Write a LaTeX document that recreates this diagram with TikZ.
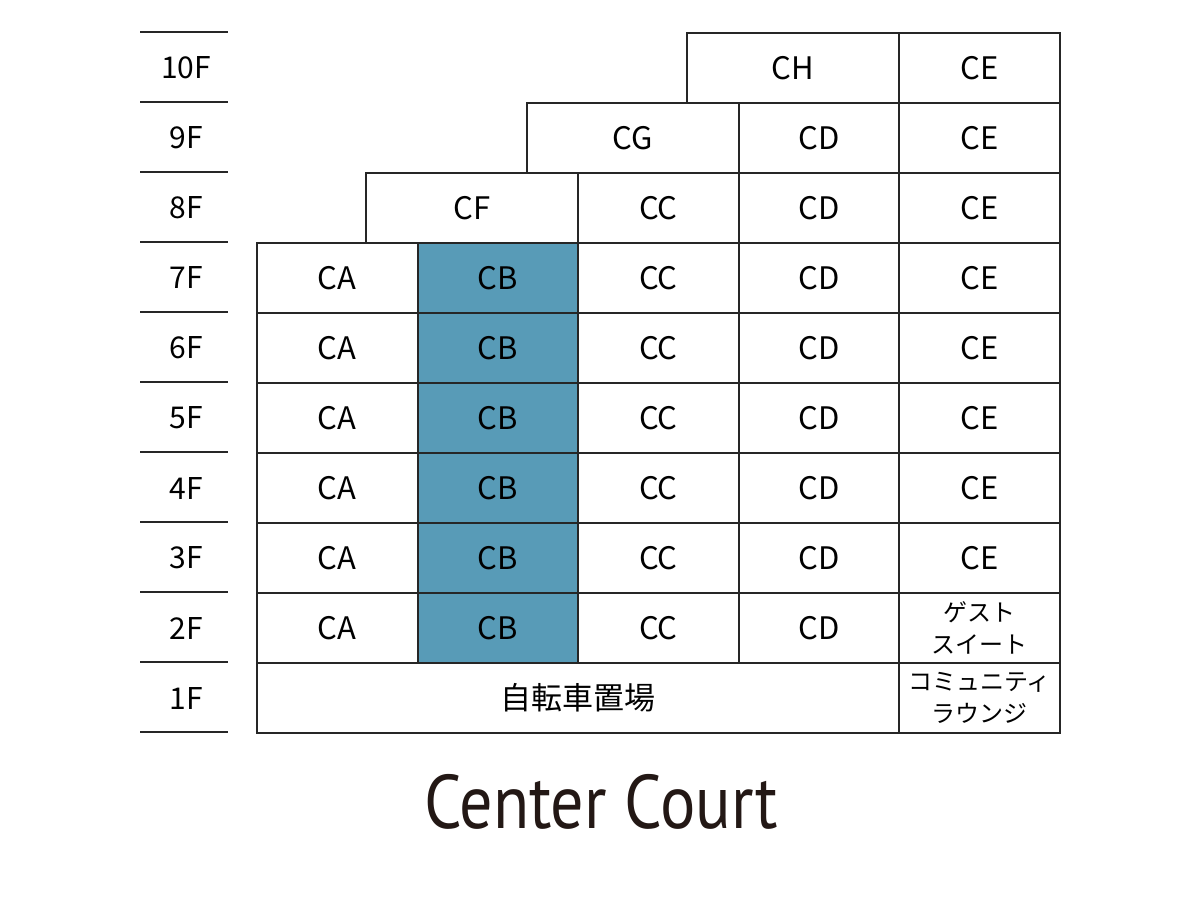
\documentclass[tikz,border=0pt]{standalone}
\usepackage{fontspec}
\setmainfont{Noto Sans CJK JP}
\newfontfamily\titlefont{PT Sans}
\usetikzlibrary{positioning}
\definecolor{cbblue}{HTML}{589BB7}
\definecolor{titlegray}{HTML}{231815}

\begin{document}
\begin{tikzpicture}[x=1pt, y=-1pt, line width=1.9pt,
  room/.style={draw=black!85, minimum height=70pt, inner sep=0pt, anchor=north west, align=center, font=\fontsize{31}{31}\selectfont},
  unit/.style={room, minimum width=160.6pt},
  jp/.style={font=\fontsize{24}{32}\selectfont},
  floorlabel/.style={font=\fontsize{30}{30}\selectfont}]
  \useasboundingbox (0,0) rectangle (1200,900);

  % floor scale
  \foreach \i in {0,...,10}
    \draw[draw=black!85] (140,32+70*\i) -- (228,32+70*\i);
  \foreach \f [count=\i from 0] in {10,...,1}
    \node [floorlabel] (f\f) at (186,68+70*\i) {\f F};

  % rooms
  \foreach \f [count=\i from 3] in {7,...,2} {
    \node [unit] (ca\f) at (256,32+70*\i) {CA};
    \node [unit, fill=cbblue] (cb\f) at (416.6,32+70*\i) {CB};
    \node [unit] (cc\f) at (577.2,32+70*\i) {CC};
    \node [unit] (cd\f) at (737.8,32+70*\i) {CD};
  }
  \foreach \f [count=\i from 0] in {10,...,3}
    \node [unit] (ce\f) at (898.4,32+70*\i) {CE};
  \node [unit] (cc8) at (577.2,172) {CC};
  \node [unit] (cd8) at (737.8,172) {CD};
  \node [unit] (cd9) at (737.8,102) {CD};
  \node [room, minimum width=212.4pt] (ch) at (686,32) {CH};
  \node [room, minimum width=211.8pt] (cg) at (526,102) {CG};
  \node [room, minimum width=212.2pt] (cf) at (365,172) {CF};
  \node [unit, jp] (guest) at (898.4,592) {ゲスト\\スイート};

  % 1F
  \node [room, minimum width=642.4pt] (bike) at (256,662) {自転車置場};
  \node [unit, jp] (lounge) at (898.4,662) {コミュニティ\\ラウンジ};

  % title
  \node [font=\titlefont\fontsize{76}{76}\selectfont, text=titlegray] (title) at (601,802) {\scalebox{0.87}[1]{Center Court}};
\end{tikzpicture}
\end{document}
